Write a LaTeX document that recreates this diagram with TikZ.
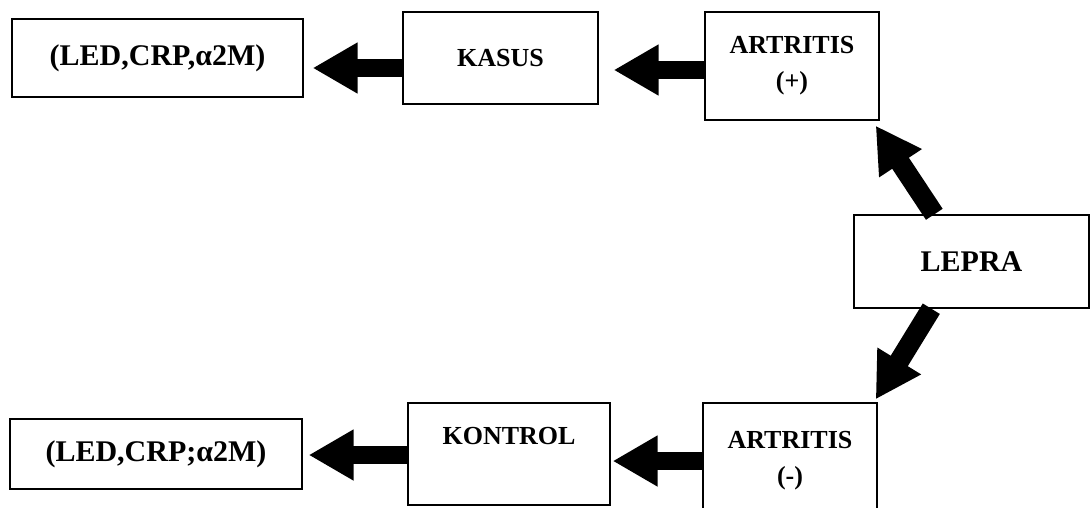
\documentclass[tikz,border=0pt]{standalone}
\usepackage{fontspec}
\setmainfont{Liberation Serif}
\usetikzlibrary{arrows.meta,calc}
\begin{document}
\begin{tikzpicture}[x=1pt,y=-1pt,
  box/.style={draw=black,line width=1.4pt,fill=white,inner sep=0pt,align=center,
    font=\bfseries\fontsize{26}{36}\selectfont},
  bigbox/.style={box,font=\bfseries\fontsize{30}{36}\selectfont},
  fat/.style={line width=18pt,-{Triangle[length=45pt,width=48pt]}}]
\useasboundingbox (0,0) rectangle (1091,507);
\clip (0,0) rectangle (1091,507);
\node[bigbox,minimum width=291pt,minimum height=78pt] (led1) at (157.5,58) {(LED,CRP,α2M)};
\node[box,minimum width=195pt,minimum height=92pt] (kasus) at (500.5,58) {KASUS};
\node[box,minimum width=174pt,minimum height=108pt] (ap) at (792,66) {ARTRITIS\\(+)};
\node[bigbox,minimum width=235pt,minimum height=93pt] (lepra) at (971.5,261.5) {LEPRA};
\node[box,minimum width=174pt,minimum height=116pt] (am) at (790,461) {ARTRITIS\\(-)};
\node[box,minimum width=202pt,minimum height=102pt] (kontrol) at (509,454) {KONTROL\\\mbox{}};
\node[bigbox,minimum width=292pt,minimum height=70pt] (led2) at (156,454) {(LED,CRP;α2M)};
% connectors
\draw[fat,shorten >=9pt] ([yshift=-10pt]kasus.west) -- ([yshift=-10pt]kasus.west -| led1.east);
\draw[fat,shorten >=15pt] ([yshift=-4pt]ap.west) -- ([yshift=-4pt]ap.west -| kasus.east);
\draw[fat,shorten >=2pt] (am.west) -- (am.west -| kontrol.east);
\draw[fat,shorten >=6pt] ([yshift=-1pt]kontrol.west) -- ([yshift=-1pt]kontrol.west -| led2.east);
\draw[fat,line width=20pt] ($(lepra.north west)+(81,0)$) -- ($(ap.south east)+(-4,5)$);
\draw[fat,line width=20pt] ($(lepra.south west)+(78,0)$) -- ($(am.north east)+(-2,-3)$);
\end{tikzpicture}
\end{document}
